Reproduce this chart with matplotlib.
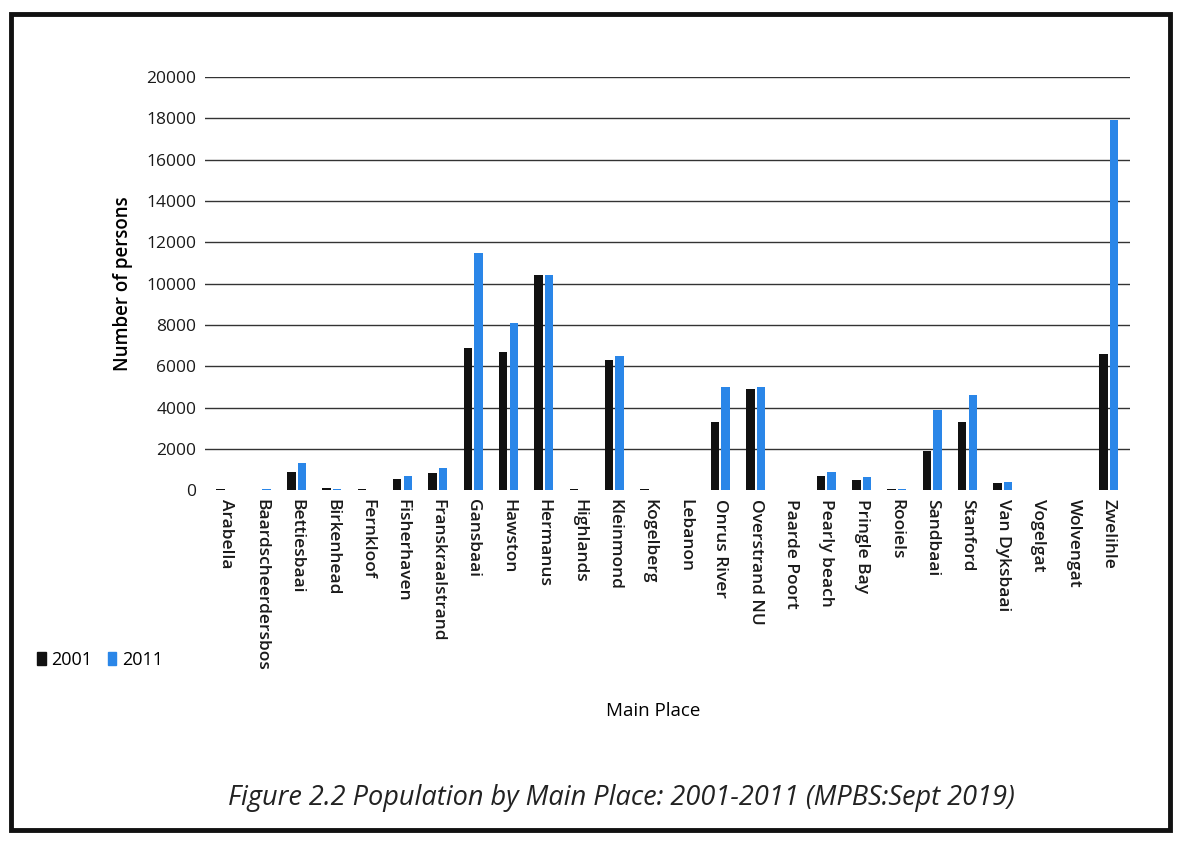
import matplotlib
matplotlib.use("Agg")
import matplotlib.pyplot as plt
import numpy as np
from matplotlib.patches import Rectangle, Patch

places = ["Arabella", "Baardscheerdersbos", "Bettiesbaai", "Birkenhead", "Fernkloof",
          "Fisherhaven", "Franskraalstrand", "Gansbaai", "Hawston", "Hermanus",
          "Highlands", "Kleinmond", "Kogelberg", "Lebanon", "Onrus River",
          "Overstrand NU", "Paarde Poort", "Pearly beach", "Pringle Bay", "Rooiels",
          "Sandbaai", "Stanford", "Van Dyksbaai", "Vogelgat", "Wolvengat", "Zwelihle"]
pop_2001 = [60, 0, 900, 100, 60, 550, 850, 6900, 6700, 10400,
            60, 6300, 60, 0, 3300, 4900, 0, 700, 500, 60,
            1900, 3300, 350, 0, 0, 6600]
pop_2011 = [0, 80, 1300, 50, 0, 700, 1100, 11500, 8100, 10400,
            40, 6500, 0, 30, 5000, 5000, 0, 900, 650, 50,
            3900, 4600, 400, 0, 30, 17900]
yticks = list(range(0, 20001, 2000))

plt.rcParams['font.family'] = ['Open Sans', 'DejaVu Sans']

fig = plt.figure(figsize=(11.77, 8.44), dpi=100)
ax = fig.add_axes([0.174, 0.419, 0.786, 0.49])

x = np.arange(len(places))
w = 0.24
ax.bar(x - 0.15, pop_2001, width=w, color='#111111', label='2001')
ax.bar(x + 0.15, pop_2011, width=w, color='#2a86e8', label='2011')

ax.set_xlim(-0.6, len(places) - 0.4)
ax.set_ylim(0, 20000)
ax.set_yticks(yticks)
ax.set_yticklabels([str(v) for v in yticks], fontsize=12.5, color='#1a1a1a')
ax.set_xticks(x)
ax.set_xticklabels(places, rotation=270, fontsize=12.5, fontweight='semibold', color='#1a1a1a')
ax.tick_params(length=0, pad=6)
for v in yticks[1:]:
    ax.axhline(v, color='#333333', lw=1.0, zorder=0)
for s in ax.spines.values():
    s.set_visible(False)

ax.set_ylabel("Number of persons", fontsize=13.5, fontweight='semibold', labelpad=10)
fig.text(0.555, 0.157, "Main Place", fontsize=13.5, ha='center', va='center')

handles = [Patch(color='#111111'), Patch(color='#2a86e8')]
fig.legend(handles, ['2001', '2011'], loc='center left', bbox_to_anchor=(0.018, 0.218),
           ncol=2, frameon=False, fontsize=13, handlelength=0.45, handleheight=0.7,
           handletextpad=0.3, columnspacing=0.9)

fig.text(0.528, 0.055, "Figure 2.2 Population by Main Place: 2001-2011 (MPBS:Sept 2019)",
         fontsize=19.5, style='italic', color='#222222', ha='center', va='center')

fig.patches.append(Rectangle((0.009, 0.017), 0.985, 0.967, transform=fig.transFigure,
                             fill=False, edgecolor='#111111', lw=3.5))

fig.savefig("out.png", dpi=100)
